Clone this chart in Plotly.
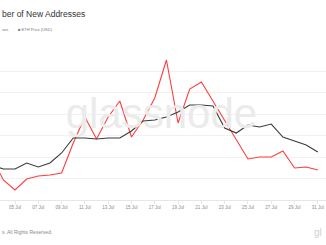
import plotly.graph_objects as go

dates = [f"2022-07-{d:02d}" for d in range(3, 32)]
new_addresses = [20100, 9333, 4667, 9800, 11200, 11667, 12600, 26600, 38733, 28467,
                 38733, 46200, 29400, 37333, 47600, 65333, 35933, 51800, 55067, 46200,
                 37333, 28467, 19133, 20067, 20067, 22867, 14933, 15400, 14000]
eth_price = [817, 723, 723, 863, 770, 863, 1097, 1447, 1447, 1423,
             1447, 1447, 1610, 1843, 1867, 1937, 2053, 2217, 2217, 2193,
             1680, 1563, 1750, 1703, 1773, 1470, 1377, 1283, 1120]

fig = go.Figure()
# watermark drawn first so that it sits beneath the lines
fig.add_trace(go.Scatter(x=[0.495], y=[0.55], mode="text", text=["glassnode"],
                         textposition="middle center", hoverinfo="skip",
                         textfont=dict(family="Liberation Sans, Arial", size=42, color="#ebebeb"),
                         xaxis="x2", yaxis="y3"))
fig.add_trace(go.Scatter(x=dates, y=new_addresses, mode="lines",
                         line=dict(color="#ff3d3d", width=1.1), name="Addresses",
                         yaxis="y"))
fig.add_trace(go.Scatter(x=dates, y=eth_price, mode="lines",
                         line=dict(color="#3a3a3a", width=1.1), name="ETH Price (USD)",
                         yaxis="y2"))

fig.update_layout(
    width=326, height=245,
    margin=dict(l=0, r=0, t=50, b=45),
    paper_bgcolor="white", plot_bgcolor="white",
    showlegend=False,
    xaxis=dict(range=["2022-07-03 17:05", "2022-07-31 16:48"],
               tick0="2022-07-05", dtick=2 * 86400000, tickformat="%d %b",
               tickfont=dict(family="Liberation Sans, Arial", size=4.5, color="#8a8a8a"),
               showgrid=False, showline=True, linecolor="#e6e6e6", linewidth=1,
               ticks="outside", ticklen=3, tickcolor="#e6e6e6", ticklabelstandoff=0,
               zeroline=False),
    xaxis2=dict(range=[0, 1], overlaying="x", visible=False),
    yaxis=dict(range=[0, 70000], dtick=10000, showticklabels=False,
               gridcolor="#f1f1f1", gridwidth=1, zeroline=False),
    yaxis2=dict(range=[0, 3500], overlaying="y", showticklabels=False,
                showgrid=False, zeroline=False),
    yaxis3=dict(range=[0, 1], overlaying="y", visible=False),
)

fig.add_annotation(text="ber of New Addresses", xref="paper", yref="paper",
                   x=0, y=1, yshift=36, xanchor="left", yanchor="middle", showarrow=False,
                   font=dict(family="Liberation Sans, Arial", size=8.5, color="#333333"))
fig.add_annotation(text="ses", xref="paper", yref="paper",
                   x=0, y=1, yshift=21, xanchor="left", yanchor="middle", showarrow=False,
                   font=dict(family="Liberation Sans, Arial", size=4, color="#777777"))
fig.add_annotation(text="■ ETH Price (USD)", xref="paper", yref="paper",
                   x=16 / 326, y=1, yshift=21, xanchor="left", yanchor="middle", showarrow=False,
                   font=dict(family="Liberation Sans, Arial", size=4, color="#777777"))
fig.add_annotation(text="s. All Rights Reserved.", xref="paper", yref="paper",
                   x=0, y=0, yshift=-32, xanchor="left", yanchor="middle", showarrow=False,
                   font=dict(family="Liberation Sans, Arial", size=5, color="#8a8a8a"))
fig.add_annotation(text="gl", xref="paper", yref="paper",
                   x=312 / 326, y=0, yshift=-32, xanchor="left", yanchor="middle", showarrow=False,
                   font=dict(family="Liberation Sans, Arial", size=10, color="#d0d0d0"))

fig.write_html("out.html")
